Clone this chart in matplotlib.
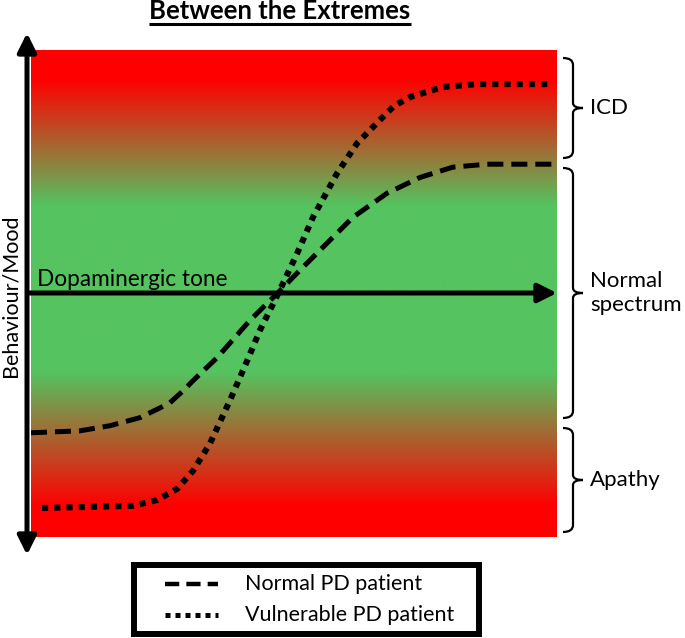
import numpy as np
import matplotlib
matplotlib.use('Agg')
import matplotlib.pyplot as plt
from matplotlib.path import Path
from matplotlib.patches import PathPatch, Rectangle

plt.rcParams['font.family'] = ['Lato', 'DejaVu Sans']

# Dopaminergic tone (0-100) vs behaviour/mood (-1..1)
normal_x = [0, 9.3, 15.0, 20.7, 22.6, 24.5, 26.4, 28.9, 30.8, 35.4, 41.6,
            46.8, 51.1, 54.9, 61.2, 67.7, 74.0, 80.2, 86.7, 100]
normal_y = [-0.572, -0.564, -0.543, -0.510, -0.490, -0.470, -0.449, -0.400,
            -0.358, -0.263, -0.111, 0.0, 0.095, 0.177, 0.313, 0.412, 0.477,
            0.519, 0.531, 0.531]

vuln_x = [2.1, 19.4, 24.0, 27.8, 30.8, 34.0, 37.8, 41.1, 43.5, 47.0, 50.6,
          53.6, 58.2, 62.0, 66.3, 69.0, 72.1, 78.3, 84.8, 98.7]
vuln_y = [-0.881, -0.872, -0.848, -0.802, -0.728, -0.617, -0.440, -0.276,
          -0.152, 0.0, 0.165, 0.313, 0.494, 0.617, 0.712, 0.770, 0.807,
          0.848, 0.860, 0.860]

series_labels = ['Normal PD patient', 'Vulnerable PD patient']

# background colour stops (mood value -> colour)
stop_y = [-1.0, -0.871, -0.324, 0.361, 0.880, 1.0]
stop_c = ['#FF0000', '#FF0000', '#55C35F', '#55C35F', '#FF0000', '#FF0000']

zone_labels = ['ICD', 'Normal\nspectrum', 'Apathy']
zone_ranges = [(58, 158), (168, 418), (428, 532)]  # bracket extents (px)

W, H = 685, 638
fig = plt.figure(figsize=(W / 100, H / 100), dpi=100)

# main gradient panel
ax = fig.add_axes([31 / W, 1 - 537 / H, 526 / W, 487 / H])
yy = np.linspace(-1, 1, 600)
rgb = np.array([matplotlib.colors.to_rgb(c) for c in stop_c])
col = np.stack([np.interp(yy, stop_y, rgb[:, k]) for k in range(3)], axis=-1)
ax.imshow(col[:, None, :], extent=[0, 100, -1, 1], origin='lower',
          aspect='auto', interpolation='bilinear')
ax.plot(normal_x, normal_y, color='k', lw=3.6, ls=(0, (3.2, 1.6)),
        dash_capstyle='butt', solid_joinstyle='round')
ax.plot(vuln_x, vuln_y, color='k', lw=4.4, ls=(0, (1.0, 1.0)),
        dash_capstyle='butt')
ax.set_xlim(0, 100)
ax.set_ylim(-1, 1)
ax.axis('off')

# overlay in pixel coordinates for annotations
ov = fig.add_axes([0, 0, 1, 1])
ov.set_xlim(0, W)
ov.set_ylim(H, 0)
ov.axis('off')
ov.patch.set_visible(False)

arrow_kw = dict(color='k', lw=3.6, mutation_scale=28, shrinkA=0, shrinkB=0)
ov.annotate('', xy=(27, 33), xytext=(27, 555),
            arrowprops=dict(arrowstyle='<|-|>', **arrow_kw))
ov.annotate('', xy=(557, 293), xytext=(29, 293),
            arrowprops=dict(arrowstyle='-|>', **arrow_kw))

ov.text(37, 286, 'Dopaminergic tone', fontsize=16.3, va='baseline', ha='left')
ov.text(11, 296, 'Behaviour/Mood', fontsize=15.5, rotation=90,
        va='center', ha='center')

# title with underline
t = ov.text(280, 19, 'Between the Extremes', fontsize=18.5, weight='bold',
            ha='center', va='baseline')
fig.canvas.draw()
bb = t.get_window_extent().transformed(ov.transData.inverted())
ov.plot([bb.x0, bb.x1], [24, 24], color='k', lw=2.2, solid_capstyle='butt')

# curly brackets
def brace(y0, y1):
    xt, xs, xm = 563, 573, 583
    ym = (y0 + y1) / 2
    verts = [(xt, y0), (xs, y0), (xs, y0 + 7), (xs, ym - 5), (xs, ym), (xm, ym),
             (xs, ym), (xs, ym + 5), (xs, y1 - 7), (xs, y1), (xt, y1)]
    codes = [Path.MOVETO, Path.CURVE3, Path.CURVE3, Path.LINETO, Path.CURVE3,
             Path.CURVE3, Path.CURVE3, Path.CURVE3, Path.LINETO, Path.CURVE3,
             Path.CURVE3]
    ov.add_patch(PathPatch(Path(verts, codes), fill=False, lw=1.6, color='k'))
    return ym

for lab, (y0, y1) in zip(zone_labels, zone_ranges):
    ym = brace(y0, y1)
    ov.text(590, ym, lab, fontsize=16, va='center', ha='left', linespacing=1.2)

# legend box
ov.add_patch(Rectangle((134, 565), 345, 69, fill=False, lw=4.3, ec='k'))
ov.plot([165, 218], [584, 584], color='k', lw=3.2, ls=(0, (3.2, 1.6)),
        dash_capstyle='butt')
ov.plot([165, 218], [615, 615], color='k', lw=3.6, ls=(0, (1.0, 1.0)),
        dash_capstyle='butt')
ov.text(245, 584, series_labels[0], fontsize=15.5, va='center', ha='left')
ov.text(245, 615, series_labels[1], fontsize=15.5, va='center', ha='left')

fig.savefig('out.png', dpi=100)
